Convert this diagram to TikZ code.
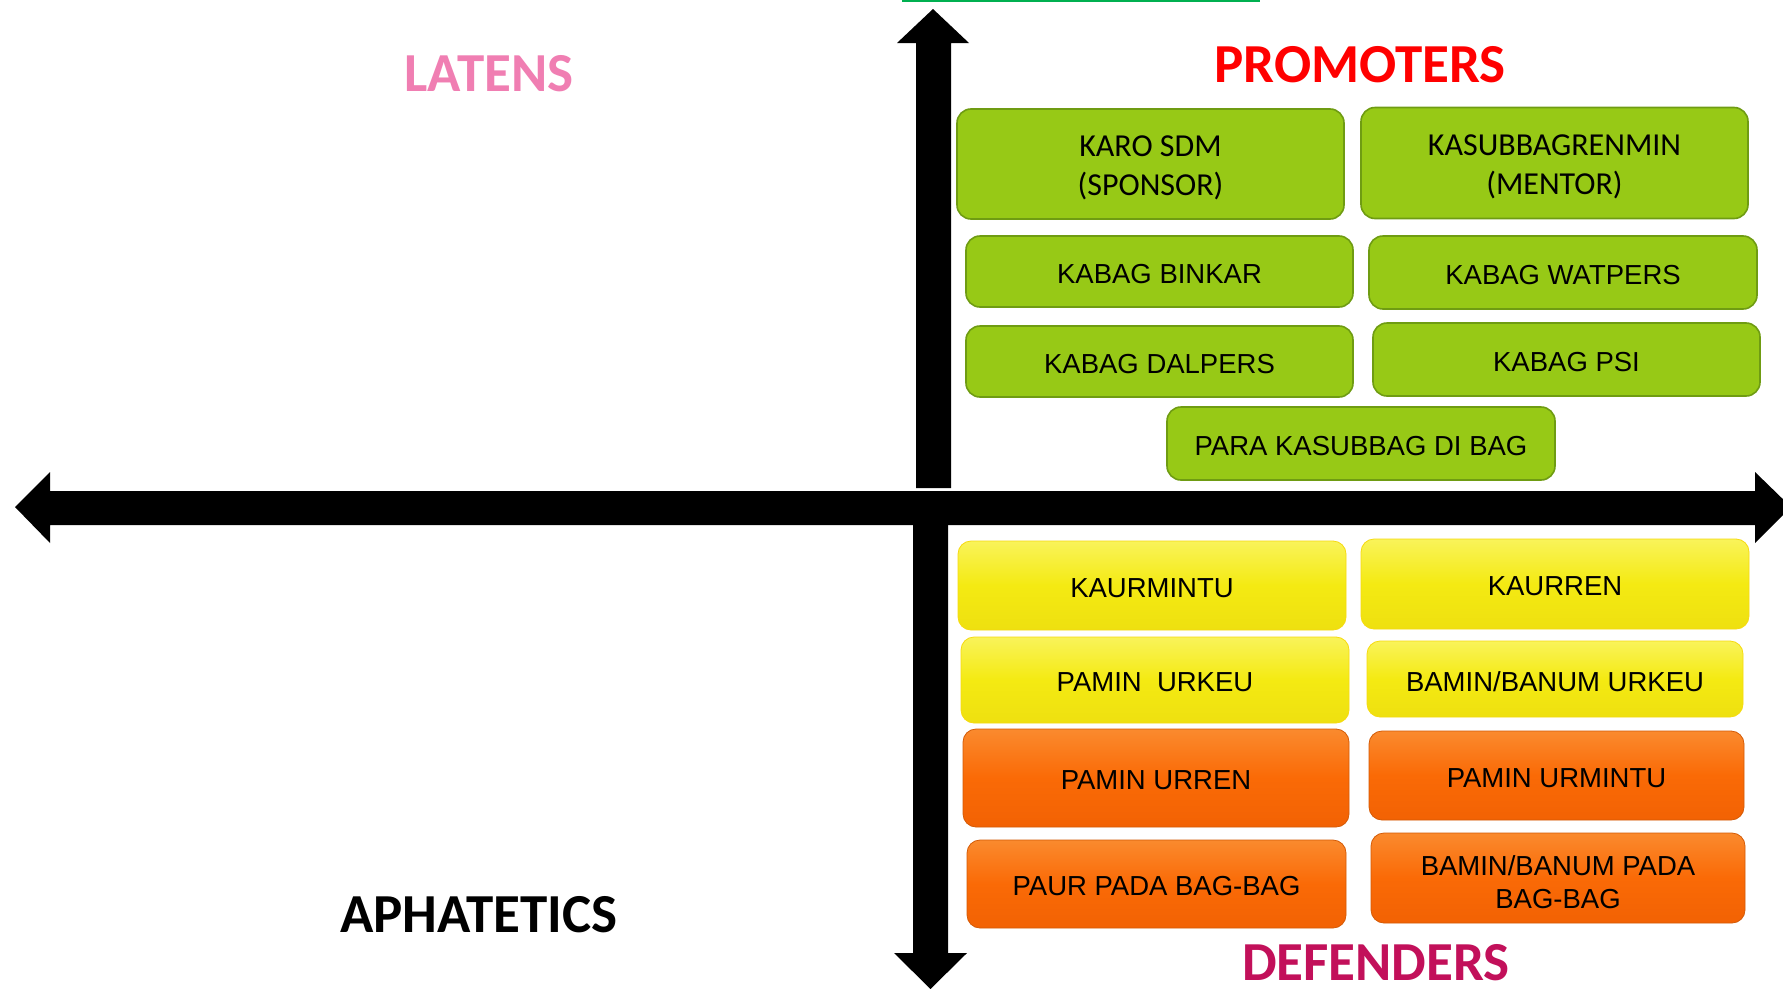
\documentclass[tikz,border=0pt]{standalone}
\usepackage{fontspec}
\setmainfont{Liberation Sans}
\newfontfamily\calibri{Carlito}
\definecolor{gfill}{HTML}{97C916}
\definecolor{gdraw}{HTML}{6F9C12}
\definecolor{ytop}{HTML}{F9F35A}
\definecolor{ymid}{HTML}{F4EA12}
\definecolor{ybot}{HTML}{EEE010}
\definecolor{otop}{HTML}{FA8A2E}
\definecolor{omid}{HTML}{FA6A06}
\definecolor{obot}{HTML}{F26204}
\definecolor{pinkt}{HTML}{F07EB2}
\definecolor{redt}{HTML}{FF0000}
\definecolor{crimt}{HTML}{C2105A}
\definecolor{topline}{HTML}{00B050}
\tikzset{
  boxbase/.style={inner sep=0pt},
  txtA/.style={inner sep=0pt, align=center, text=black, yshift=-2.5pt, font=\fontsize{27.5}{33}\selectfont},
  txtB/.style={txtA, yshift=-1.5pt},
  txtC/.style={inner sep=0pt, align=center, text=black, yshift=-4pt, font=\calibri\fontsize{32}{39}\selectfont},
  one/.style={label={[txtA]center:{#1}}},
  two/.style={label={[txtB]center:{#1}}},
  twoc/.style={label={[txtC]center:{#1}}},
  gbox/.style={boxbase, rounded corners=14pt, fill=gfill, draw=gdraw, line width=1.6pt},
  ybox/.style={boxbase, rounded corners=13pt, top color=ytop, bottom color=ybot, middle color=ymid,
    draw=ymid!85!orange, line width=0.8pt},
  obox/.style={boxbase, rounded corners=13pt, top color=otop, bottom color=obot, middle color=omid,
    draw=omid!85!black, line width=0.8pt},
  ttl/.style={inner sep=0pt, font=\calibri\bfseries\fontsize{55}{66}\selectfont},
  axis/.style={fill=black}
}
\begin{document}
\begin{tikzpicture}[x=1pt,y=-1pt]
\useasboundingbox (0,0) rectangle (1783,988);
\fill[white] (0,0) rectangle (1783,988);
\begin{scope}
\clip (0,0) rectangle (1783,988);
% top green line
\fill[topline] (902,0) rectangle (1260,2.2);
% axes
\fill[axis] (933,9) -- (969,43) -- (951,43) -- (951,488) -- (916,488) -- (916,43) -- (897,43) -- cycle;
\fill[axis] (15,507) -- (50,472) -- (50,491) -- (1755,491) -- (1755,472) -- (1791,507)
  -- (1755,543) -- (1755,525) -- (50,525) -- (50,543) -- cycle;
\fill[axis] (913,525) -- (948,525) -- (948,953) -- (967,953) -- (930.5,989) -- (894,953) -- (913,953) -- cycle;
\end{scope}
% titles
\node[ttl, text=pinkt] (latens) at (489,74) {LATENS};
\node[ttl, text=redt] (promoters) at (1360,65) {PROMOTERS};
\node[ttl, text=black] (aphat) at (479,915) {APHATETICS};
\node[ttl, text=crimt] (defenders) at (1376,963) {DEFENDERS};
% green boxes
\node[gbox, minimum width=387pt, minimum height=110pt, twoc={KARO SDM\\(SPONSOR)}] (karo) at (1150.5,164) {};
\node[gbox, minimum width=387pt, minimum height=111pt, twoc={KASUBBAGRENMIN\\(MENTOR)}] (kasub) at (1554.5,163) {};
\node[gbox, minimum width=387pt, minimum height=71pt, one={KABAG BINKAR}] (binkar) at (1159.5,271.5) {};
\node[gbox, minimum width=388pt, minimum height=73pt, one={KABAG WATPERS}] (watpers) at (1563,272.5) {};
\node[gbox, minimum width=387pt, minimum height=71pt, one={KABAG DALPERS}] (dalpers) at (1159.5,361.5) {};
\node[gbox, minimum width=387pt, minimum height=73pt, one={KABAG PSI}] (psi) at (1566.5,359.5) {};
\node[gbox, minimum width=388pt, minimum height=73pt, one={PARA KASUBBAG DI BAG}] (para) at (1361,443.5) {};
% yellow boxes
\node[ybox, minimum width=388pt, minimum height=89pt, one={KAURMINTU}] (kaurmintu) at (1152,585.5) {};
\node[ybox, minimum width=388pt, minimum height=90pt, one={KAURREN}] (kaurren) at (1555,584) {};
\node[ybox, minimum width=388pt, minimum height=86pt, one={PAMIN~ URKEU}] (paminurkeu) at (1155,680) {};
\node[ybox, minimum width=376pt, minimum height=76pt, one={BAMIN/BANUM URKEU}] (baminurkeu) at (1555,679) {};
% orange boxes
\node[obox, minimum width=386pt, minimum height=98pt, one={PAMIN URREN}] (urren) at (1156,778) {};
\node[obox, minimum width=375pt, minimum height=89pt, one={PAMIN URMINTU}] (urmintu) at (1556.5,775.5) {};
\node[obox, minimum width=379pt, minimum height=88pt, one={PAUR PADA BAG-BAG}] (paur) at (1156.5,884) {};
\node[obox, minimum width=374pt, minimum height=90pt, two={BAMIN/BANUM PADA\\BAG-BAG}] (baminpada) at (1558,878) {};
\end{tikzpicture}
\end{document}
